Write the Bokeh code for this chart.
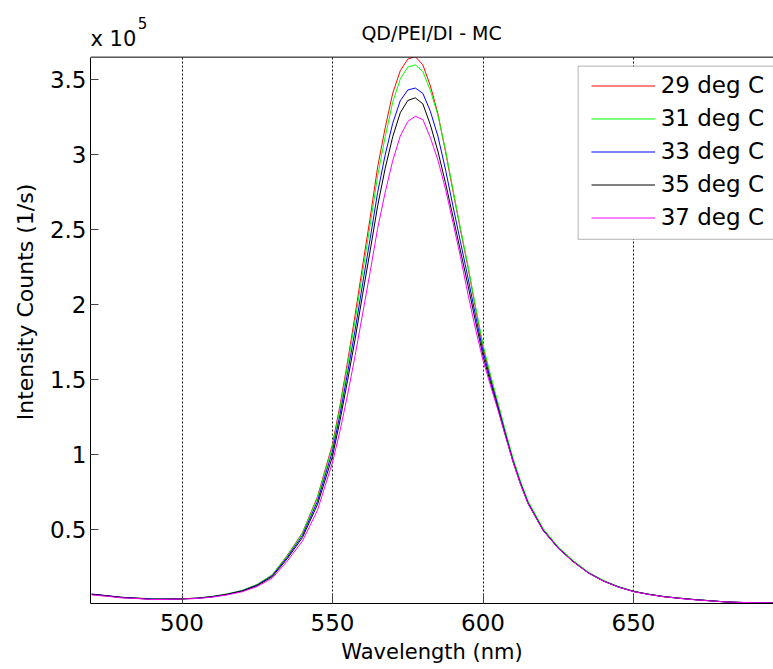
from bokeh.plotting import figure
from bokeh.models import (ColumnDataSource, FixedTicker, CustomJSTickFormatter, Legend,
                          LegendItem, BoxAnnotation, PolyAnnotation, Span, Label, Range1d)
from bokeh.embed import file_html
from bokeh.resources import INLINE

# ---------------- data (intensity in units of 1e5 counts/s) ----------------
wavelength_nm = [470, 475, 480, 485, 490, 495, 500, 505, 510, 515, 520, 525, 530, 535, 540,
                 545, 550, 552.5, 555, 557.5, 560, 562.5, 565, 567.5, 570, 572.5, 575, 577.5,
                 580, 582.5, 585, 587.5, 590, 592.5, 595, 597.5, 600, 602.5, 605, 607.5, 610,
                 612.5, 615, 620, 625, 630, 635, 640, 645, 650, 655, 660, 665, 670, 675, 680,
                 685, 690, 695, 700]

int_29C = [0.070, 0.060, 0.050, 0.045, 0.040, 0.040, 0.040, 0.045, 0.055, 0.072, 0.095, 0.135,
           0.200, 0.330, 0.480, 0.720, 1.070, 1.330, 1.620, 1.930, 2.260, 2.580, 2.920, 3.180,
           3.410, 3.560, 3.638, 3.655, 3.600, 3.460, 3.275, 3.025, 2.760, 2.500, 2.250, 1.980,
           1.720, 1.520, 1.330, 1.140, 0.960, 0.810, 0.680, 0.500, 0.380, 0.290, 0.215, 0.160,
           0.120, 0.090, 0.070, 0.055, 0.045, 0.035, 0.028, 0.020, 0.016, 0.014, 0.013, 0.012]
int_31C = [0.068, 0.058, 0.049, 0.044, 0.040, 0.039, 0.040, 0.045, 0.056, 0.073, 0.096, 0.136,
           0.200, 0.328, 0.476, 0.712, 1.055, 1.310, 1.595, 1.895, 2.215, 2.530, 2.860, 3.120,
           3.350, 3.505, 3.585, 3.600, 3.555, 3.430, 3.265, 3.035, 2.770, 2.510, 2.260, 1.990,
           1.735, 1.530, 1.345, 1.155, 0.975, 0.822, 0.690, 0.508, 0.386, 0.294, 0.218, 0.163,
           0.122, 0.091, 0.071, 0.056, 0.045, 0.036, 0.028, 0.021, 0.016, 0.014, 0.013, 0.012]
int_33C = [0.072, 0.061, 0.050, 0.044, 0.038, 0.038, 0.040, 0.044, 0.054, 0.070, 0.093, 0.132,
           0.194, 0.318, 0.462, 0.690, 1.025, 1.270, 1.545, 1.830, 2.140, 2.440, 2.750, 3.000,
           3.210, 3.360, 3.432, 3.445, 3.410, 3.290, 3.125, 2.905, 2.660, 2.420, 2.180, 1.930,
           1.690, 1.500, 1.320, 1.135, 0.958, 0.808, 0.678, 0.498, 0.378, 0.288, 0.213, 0.159,
           0.119, 0.089, 0.070, 0.055, 0.044, 0.035, 0.028, 0.020, 0.016, 0.014, 0.013, 0.012]
int_35C = [0.070, 0.060, 0.048, 0.043, 0.036, 0.037, 0.039, 0.043, 0.053, 0.069, 0.091, 0.128,
           0.188, 0.308, 0.448, 0.668, 0.990, 1.230, 1.495, 1.770, 2.070, 2.360, 2.660, 2.910,
           3.120, 3.280, 3.362, 3.380, 3.340, 3.200, 3.025, 2.815, 2.590, 2.360, 2.130, 1.890,
           1.660, 1.480, 1.305, 1.125, 0.952, 0.803, 0.674, 0.495, 0.376, 0.286, 0.212, 0.158,
           0.118, 0.089, 0.070, 0.054, 0.044, 0.035, 0.027, 0.020, 0.016, 0.014, 0.013, 0.012]
int_37C = [0.066, 0.057, 0.046, 0.042, 0.035, 0.036, 0.039, 0.042, 0.051, 0.066, 0.087, 0.122,
           0.178, 0.292, 0.425, 0.630, 0.950, 1.160, 1.400, 1.660, 1.940, 2.220, 2.510, 2.750,
           2.960, 3.125, 3.222, 3.257, 3.235, 3.115, 2.965, 2.775, 2.550, 2.320, 2.070, 1.840,
           1.630, 1.460, 1.295, 1.120, 0.950, 0.800, 0.672, 0.494, 0.375, 0.286, 0.212, 0.158,
           0.118, 0.088, 0.069, 0.054, 0.043, 0.034, 0.027, 0.020, 0.016, 0.014, 0.013, 0.012]

series_keys = ["t29", "t31", "t33", "t35", "t37"]
series_labels = ["29 deg C", "31 deg C", "33 deg C", "35 deg C", "37 deg C"]
series_colors = ["#ff0000", "#00ff00", "#0000ff", "#000000", "#ff00ff"]

x_ticks = [500, 550, 600, 650]
y_ticks = [0.5, 1.0, 1.5, 2.0, 2.5, 3.0, 3.5]

title_text = "QD/PEI/DI - MC"
x_label = "Wavelength (nm)"
y_label = "Intensity Counts (1/s)"
exp_base = "x 10"
exp_power = "5"

FONT = "DejaVu Sans"

# ---------------- layout constants ----------------
X0, X1 = 469.6, 696.5          # visible wavelength span
Y0, YTOP = 0.0087, 3.651       # axes box (in 1e5 units)
Y_CANVAS_TOP = 4.0287          # frame extends to canvas top so texts can live above the box

source = ColumnDataSource(dict(wl=wavelength_nm, t29=int_29C, t31=int_31C, t33=int_33C,
                               t35=int_35C, t37=int_37C))

p = figure(width=773, height=669, x_range=Range1d(X0, X1), y_range=Range1d(Y0, Y_CANVAS_TOP),
           output_backend="svg", toolbar_location=None, title=None,
           min_border_left=90, min_border_right=0, min_border_top=0, min_border_bottom=66)
p.outline_line_color = None
p.background_fill_color = "white"
p.border_fill_color = "white"

# axes
for ax in (p.xaxis[0], p.yaxis[0]):
    ax.axis_line_color = "black"
    ax.axis_line_width = 1
    ax.major_tick_in = 8
    ax.major_tick_out = 0
    ax.major_tick_line_color = "#444444"
    ax.minor_tick_line_color = None
    ax.major_label_text_font = FONT
    ax.major_label_text_font_size = "23px"
    ax.major_label_text_color = "black"
    ax.axis_label_text_font = FONT
    ax.axis_label_text_font_style = "normal"
    ax.axis_label_text_color = "black"

p.xaxis.ticker = FixedTicker(ticks=x_ticks)
p.yaxis.ticker = FixedTicker(ticks=y_ticks)
p.yaxis.bounds = (Y0, YTOP)
p.xaxis.formatter = CustomJSTickFormatter(code="return String(tick);")
p.yaxis.formatter = CustomJSTickFormatter(code="return String(Math.round(tick*10)/10);")
p.xaxis.axis_label = x_label
p.yaxis.axis_label = y_label
p.xaxis.axis_label_text_font_size = "21px"
p.yaxis.axis_label_text_font_size = "22px"
p.xaxis.major_label_standoff = 10
p.xaxis.axis_label_standoff = 6
p.yaxis.major_label_standoff = 4
p.yaxis.axis_label_standoff = 9

# grid
p.xgrid.ticker = FixedTicker(ticks=x_ticks)
p.xgrid.grid_line_color = "black"
p.xgrid.grid_line_dash = "2 2"
p.xgrid.grid_line_alpha = 0.9
p.ygrid.grid_line_color = None

# curves
renderers = []
for key, col in zip(series_keys, series_colors):
    r = p.line(x="wl", y=key, source=source, line_color=col, line_width=1)
    renderers.append(r)

# white area above the axes box + top border
p.add_layout(BoxAnnotation(bottom=YTOP, fill_color="white", fill_alpha=1.0,
                           line_alpha=0.0, level="annotation"))
p.add_layout(Span(location=YTOP, dimension="width", line_color="black", line_width=1,
                  level="annotation"))

# legend box (its right side runs past the picture edge)
p.add_layout(PolyAnnotation(xs=[631.6, 760.0, 760.0, 631.6], ys=[3.591, 3.591, 2.437, 2.437],
                            fill_color="white", fill_alpha=1.0,
                            line_color="black", line_width=1, level="annotation"))

legend = Legend(items=[LegendItem(label=lab, renderers=[r]) for lab, r in zip(series_labels, renderers)],
                location=(497.7, 366.5), orientation="vertical",
                glyph_width=64, glyph_height=33, label_height=33, spacing=0,
                label_standoff=6, padding=3, margin=0,
                label_text_font=FONT, label_text_font_size="23px", label_text_color="black",
                background_fill_alpha=0.0, border_line_alpha=0.0)
p.add_layout(legend, "center")

# title and exponent labels
p.add_layout(Label(x=582.9, y=3.812, text=title_text, text_align="center",
                   text_baseline="alphabetic", text_font=FONT, text_font_size="19px",
                   text_color="black"))
p.add_layout(Label(x=469.6, y=3.771, text=exp_base, text_align="left",
                   text_baseline="alphabetic", text_font=FONT, text_font_size="21px",
                   text_color="black"))
p.add_layout(Label(x=485.3, y=3.876, text=exp_power, text_align="left",
                   text_baseline="alphabetic", text_font=FONT, text_font_size="15px",
                   text_color="black"))

open("out.html", "w").write(file_html(p, INLINE))
